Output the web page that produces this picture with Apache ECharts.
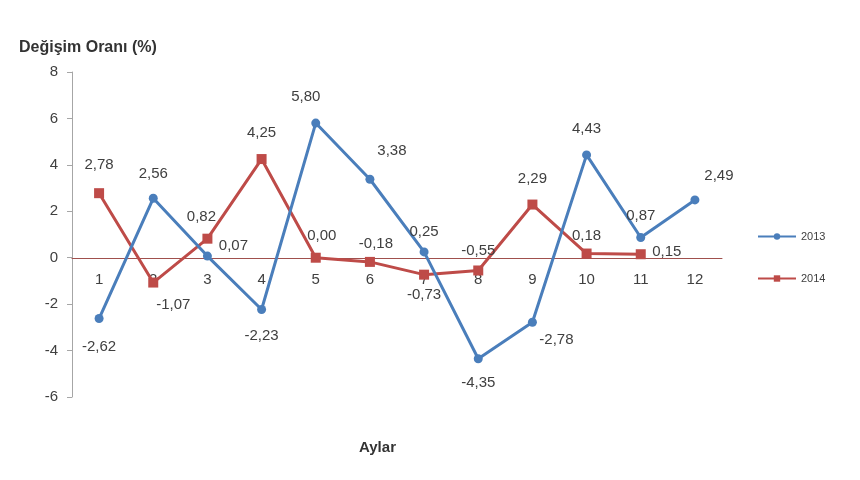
<!DOCTYPE html>
<html><head><meta charset="utf-8">
<script src="https://cdn.jsdelivr.net/npm/echarts@6/dist/echarts.min.js"></script>
<style>html,body{margin:0;padding:0;background:#fff}#c{width:860px;height:480px}</style>
</head><body><div id="c"></div>
<script>
var months = ['1','2','3','4','5','6','7','8','9','10','11','12'];
var s2013 = [-2.62, 2.56, 0.07, -2.23, 5.80, 3.38, 0.25, -4.35, -2.78, 4.43, 0.87, 2.49];
var s2014 = [2.78, -1.07, 0.82, 4.25, 0.00, -0.18, -0.73, -0.55, 2.29, 0.18, 0.15];
var yTicks = [-6, -4, -2, 0, 2, 4, 6, 8];

// label placement (style only)
var pos2013 = [[0,28],[0,-24],[26,-10],[0,26],[-10,-26],[22,-28],[0,-20],[0,24],[24,18],[0,-26],[0,-22],[24,-24]];
var pos2014 = [[0,-28],[20,22],[-6,-22],[0,-26],[6,-22],[6,-18],[0,20],[0,-20],[0,-26],[0,-18],[26,-2]];

function fmt(v){ return v.toFixed(2).replace('.', ','); }
function build(vals, pos){
  return vals.map(function(v,i){
    return {value: v, label: {offset: pos[i]}};
  });
}
var labelStyle = {show:true, position:'inside', formatter:function(p){return fmt(p.value);}, color:'#404040', fontSize:15, fontFamily:'Liberation Sans, Arial, sans-serif'};

var chart = echarts.init(document.getElementById('c'));
chart.setOption({
  animation:false,
  textStyle:{fontFamily:'Liberation Sans, Arial, sans-serif'},
  grid:{left:72, right:138, top:72, bottom:83},
  title:[
    {text:'Değişim Oranı (%)', left:14, top:35, textStyle:{fontSize:16, fontWeight:'bold', color:'#333'}},
    {text:'Aylar', left:354, top:435, textStyle:{fontSize:15, fontWeight:'bold', color:'#333'}}
  ],
  legend:{
    orient:'vertical', left:752, top:226, itemGap:31, itemWidth:38, itemHeight:8,
    textStyle:{fontSize:11, color:'#404040'},
    data:['2013','2014']
  },
  xAxis:{
    type:'category', data:months, boundaryGap:true, position:'bottom', offset:-139,
    axisLine:{onZero:false, lineStyle:{color:'#a0504d', width:1}},
    axisTick:{show:false},
    axisLabel:{color:'#404040', fontSize:15, margin:14}
  },
  yAxis:{
    type:'value', min:-6, max:8, interval:2,
    axisLine:{show:true, lineStyle:{color:'#a6a6a6'}},
    axisTick:{show:true, length:5, lineStyle:{color:'#a6a6a6'}},
    splitLine:{show:false},
    axisLabel:{color:'#404040', fontSize:15, margin:14}
  },
  series:[
    {name:'2013', type:'line', data:build(s2013,pos2013), symbol:'circle', symbolSize:9,
     lineStyle:{color:'#4a7ebb', width:3}, itemStyle:{color:'#4a7ebb'}, label:labelStyle, z:3},
    {name:'2014', type:'line', data:build(s2014,pos2014), symbol:'rect', symbolSize:10,
     lineStyle:{color:'#be4b48', width:3}, itemStyle:{color:'#be4b48'}, label:labelStyle, z:2}
  ]
});
</script></body></html>
